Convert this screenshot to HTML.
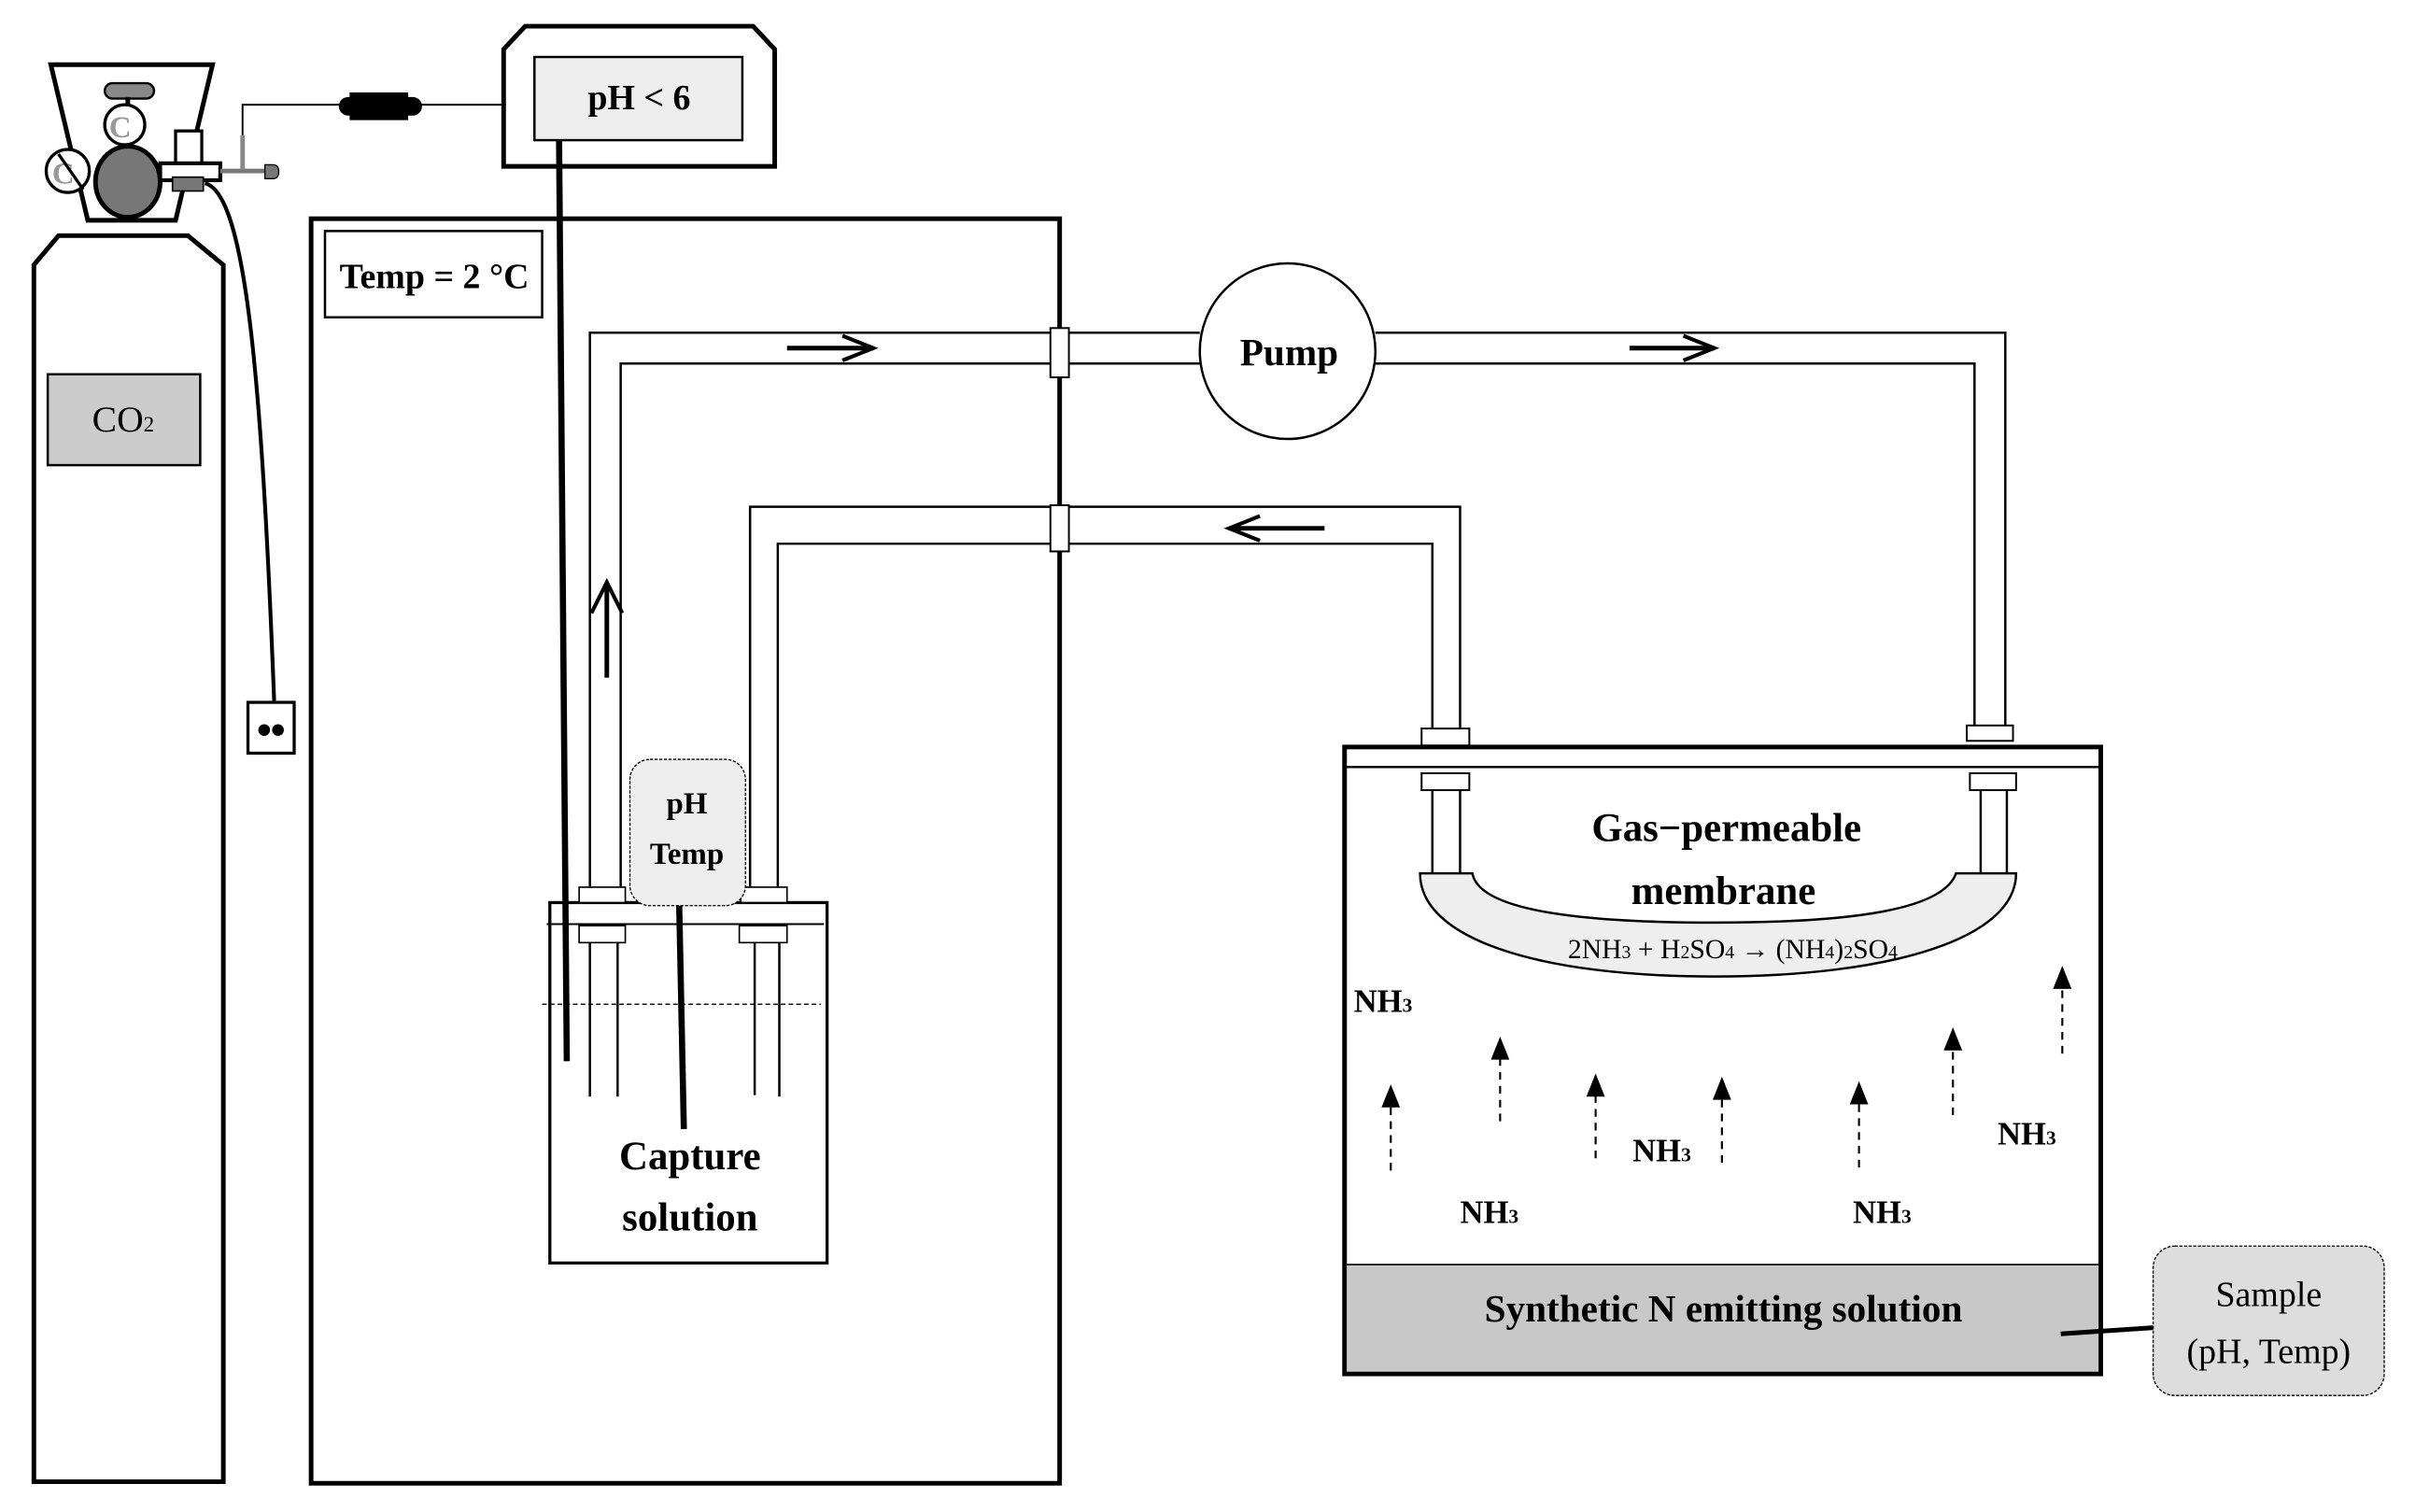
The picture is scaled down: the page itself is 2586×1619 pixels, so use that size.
<!DOCTYPE html>
<html><head><meta charset="utf-8"><style>
html,body{margin:0;padding:0;background:#fff;}
svg{display:block;}
text{font-family:"Liberation Serif",serif;font-weight:bold;fill:#000;}
</style></head><body>
<svg width="2586" height="1619" viewBox="0 0 1568 981.66" preserveAspectRatio="none" xmlns="http://www.w3.org/2000/svg">
<!-- CO2 cylinder -->
<path d="M22,962 L22,172 L38,153 L122,153 L145,172 L145,962 Z" fill="#fff" stroke="#000" stroke-width="3"/>
<rect x="31" y="243" width="99" height="59" fill="#ccc" stroke="#000" stroke-width="1.5"/>
<text x="80" y="280" font-size="24" text-anchor="middle" style="font-weight:normal">CO<tspan font-size="14">2</tspan></text>
<!-- regulator -->
<path d="M33,42 L138,42 L114,143 L57,143 Z" fill="#fff" stroke="#000" stroke-width="3"/>
<rect x="68" y="54" width="32" height="10" rx="5" fill="#888" stroke="#000" stroke-width="1.5"/>
<line x1="83" y1="63" x2="83" y2="142" stroke="#000" stroke-width="3"/>
<circle cx="81" cy="81" r="13" fill="#fff" stroke="#000" stroke-width="2"/>
<text x="78" y="89" font-size="20" text-anchor="middle" style="fill:#999">C</text>
<circle cx="44" cy="111" r="14" fill="#fff" stroke="#000" stroke-width="2"/>
<text x="41" y="119" font-size="20" text-anchor="middle" style="fill:#999">C</text>
<line x1="38" y1="100" x2="54" y2="123" stroke="#000" stroke-width="2"/>
<ellipse cx="83" cy="118" rx="21" ry="23" fill="#777" stroke="#000" stroke-width="3"/>
<rect x="114" y="85" width="17" height="21" fill="#fff" stroke="#000" stroke-width="2"/>
<rect x="104" y="106" width="39" height="11" fill="#fff" stroke="#000" stroke-width="2.5"/>
<rect x="112" y="115" width="20" height="9" fill="#777" stroke="#000" stroke-width="1"/>
<line x1="143" y1="111" x2="174" y2="111" stroke="#777" stroke-width="3"/>
<path d="M172,107 L177,107 Q181,107 181,111.5 Q181,116 177,116 L172,116 Z" fill="#777" stroke="#000" stroke-width="0.8"/>
<rect x="156" y="88" width="3" height="22" fill="#888"/>
<polyline points="157.5,88 157.5,68 327,68" fill="none" stroke="#000" stroke-width="1.2"/>
<rect x="220" y="63" width="54" height="12" rx="6" fill="#000"/>
<rect x="227" y="60" width="38" height="18" fill="#000"/>
<!-- hose -->
<path d="M133,119 C160,125 170,250 178,455" fill="none" stroke="#000" stroke-width="2.5"/>
<rect x="161" y="456" width="30" height="33" fill="#fff" stroke="#000" stroke-width="2"/>
<circle cx="171.5" cy="474" r="3.8" fill="#000"/><circle cx="180.5" cy="474" r="3.8" fill="#000"/>
<!-- pH meter -->
<path d="M327,108 L327,32 L341,17 L489,17 L503,32 L503,108 Z" fill="#fff" stroke="#000" stroke-width="3"/>
<rect x="347" y="37" width="135" height="54" fill="#eee" stroke="#000" stroke-width="1.5"/>
<text x="415" y="71" font-size="23" text-anchor="middle">pH &lt; 6</text>
<!-- refrigerator -->
<rect x="202" y="142" width="486" height="821" fill="none" stroke="#000" stroke-width="3"/>
<rect x="211" y="150" width="141" height="56" fill="#fff" stroke="#000" stroke-width="1.5"/>
<text x="282" y="187" font-size="23" text-anchor="middle">Temp = 2 °C</text>
<!-- pipes upper -->
<polyline points="383,576 383,216 779,216" fill="none" stroke="#000" stroke-width="1.5"/>
<polyline points="403,576 403,236 779,236" fill="none" stroke="#000" stroke-width="1.5"/>
<polyline points="893,216 1302,216 1302,471" fill="none" stroke="#000" stroke-width="1.5"/>
<polyline points="893,236 1282,236 1282,471" fill="none" stroke="#000" stroke-width="1.5"/>
<!-- pipes lower -->
<polyline points="487,576 487,329 948,329 948,473" fill="none" stroke="#000" stroke-width="1.5"/>
<polyline points="505,576 505,353 930,353 930,473" fill="none" stroke="#000" stroke-width="1.5"/>
<!-- pump -->
<circle cx="836" cy="228" r="57" fill="#fff" stroke="#000" stroke-width="1.5"/>
<text x="837" y="237" font-size="25" text-anchor="middle">Pump</text>
<!-- collars at wall -->
<rect x="682" y="213" width="12" height="32" fill="#fff" stroke="#000" stroke-width="1.2"/>
<rect x="682" y="328" width="12" height="30" fill="#fff" stroke="#000" stroke-width="1.2"/>
<!-- flow arrows -->
<g fill="none" stroke="#000" stroke-width="3">
<line x1="511" y1="226" x2="567" y2="226"/><polyline points="547,218 567,226 547,234" stroke-width="2.5"/>
<line x1="1058" y1="226" x2="1113" y2="226"/><polyline points="1093,218 1113,226 1093,234" stroke-width="2.5"/>
<line x1="860" y1="343" x2="798" y2="343"/><polyline points="818,335 798,343 818,351" stroke-width="2.5"/>
<line x1="394" y1="440" x2="394" y2="380"/><polyline points="384,398 394,378 404,398" stroke-width="2.5"/>
</g>
<!-- capture vessel -->
<rect x="357" y="586" width="180" height="234" fill="#fff" stroke="#000" stroke-width="2"/>
<line x1="355" y1="600" x2="535" y2="600" stroke="#000" stroke-width="1.2"/>
<line x1="352" y1="652" x2="533" y2="652" stroke="#000" stroke-width="0.8" stroke-dasharray="3,2"/>
<rect x="376" y="576" width="30" height="10" fill="#fff" stroke="#000" stroke-width="1"/>
<rect x="481" y="576" width="30" height="10" fill="#fff" stroke="#000" stroke-width="1"/>
<rect x="376" y="601" width="30" height="11" fill="#fff" stroke="#000" stroke-width="1"/>
<rect x="480" y="601" width="31" height="11" fill="#fff" stroke="#000" stroke-width="1"/>
<g stroke="#000" stroke-width="1.5">
<line x1="383" y1="612" x2="383" y2="712"/><line x1="401" y1="612" x2="401" y2="712"/>
<line x1="490" y1="612" x2="490" y2="711"/><line x1="506" y1="612" x2="506" y2="712"/>
</g>
<!-- pH meter cable -->
<line x1="363" y1="91" x2="368" y2="689" stroke="#000" stroke-width="4"/>
<rect x="409" y="493" width="75" height="95" rx="13" fill="#eee" stroke="#000" stroke-width="0.8" stroke-dasharray="2,1"/>
<text x="446" y="528" font-size="20" text-anchor="middle">pH</text>
<text x="446" y="561" font-size="20" text-anchor="middle">Temp</text>
<line x1="441" y1="588" x2="444" y2="733" stroke="#000" stroke-width="4"/>
<text x="448" y="759" font-size="26" text-anchor="middle">Capture</text>
<text x="448" y="799" font-size="26" text-anchor="middle">solution</text>
<!-- right vessel -->
<rect x="873" y="485" width="491" height="407" fill="#fff" stroke="#000" stroke-width="3"/>
<line x1="873" y1="498" x2="1364" y2="498" stroke="#000" stroke-width="1.5"/>
<rect x="874.5" y="821" width="488" height="69.5" fill="#c8c8c8"/>
<line x1="873" y1="821" x2="1364" y2="821" stroke="#000" stroke-width="1"/>
<text x="1119" y="858" font-size="25" text-anchor="middle">Synthetic N emitting solution</text>
<rect x="923" y="473" width="31" height="11" fill="#fff" stroke="#000" stroke-width="1.2"/>
<rect x="1277" y="471" width="30" height="10" fill="#fff" stroke="#000" stroke-width="1.2"/>
<rect x="923" y="502" width="31" height="11" fill="#fff" stroke="#000" stroke-width="1.2"/>
<rect x="1279" y="502" width="30" height="11" fill="#fff" stroke="#000" stroke-width="1.2"/>
<g stroke="#000" stroke-width="1.5">
<line x1="930" y1="513" x2="930" y2="568"/><line x1="948" y1="513" x2="948" y2="568"/>
<line x1="1286" y1="513" x2="1286" y2="568"/><line x1="1303" y1="513" x2="1303" y2="568"/>
</g>
<path d="M922,567 L956,567 C960,590 1020,599 1113,599 C1206,599 1262,590 1270,567 L1309,567 C1309,610 1226,634 1113,634 C1000,634 922,610 922,567 Z" fill="#eee" stroke="#000" stroke-width="1.5"/>
<text x="1121" y="546" font-size="26" text-anchor="middle">Gas−permeable</text>
<text x="1119" y="587" font-size="26" text-anchor="middle">membrane</text>
<text x="1125" y="622" font-size="18" text-anchor="middle" style="font-weight:normal">2NH<tspan font-size="12">3</tspan> + H<tspan font-size="12">2</tspan>SO<tspan font-size="12">4</tspan> → (NH<tspan font-size="12">4</tspan>)<tspan font-size="12">2</tspan>SO<tspan font-size="12">4</tspan></text>
<!-- NH3 labels -->
<g font-size="21">
<text x="879" y="657">NH<tspan font-size="13">3</tspan></text>
<text x="1060" y="754">NH<tspan font-size="13">3</tspan></text>
<text x="948" y="794">NH<tspan font-size="13">3</tspan></text>
<text x="1203" y="794">NH<tspan font-size="13">3</tspan></text>
<text x="1297" y="743">NH<tspan font-size="13">3</tspan></text>
</g>
<!-- dashed arrows -->
<g stroke="#000" stroke-width="1.3" stroke-dasharray="5,4" fill="none">
<line x1="903" y1="760" x2="903" y2="718"/>
<line x1="974" y1="728" x2="974" y2="687"/>
<line x1="1036" y1="752" x2="1036" y2="711"/>
<line x1="1118" y1="755" x2="1118" y2="713"/>
<line x1="1207" y1="758" x2="1207" y2="716"/>
<line x1="1268" y1="724" x2="1268" y2="681"/>
<line x1="1339" y1="684" x2="1339" y2="641"/>
</g>
<g fill="#000">
<path d="M903,704 L897,719 L909,719 Z"/>
<path d="M974,673 L968,688 L980,688 Z"/>
<path d="M1036,697 L1030,712 L1042,712 Z"/>
<path d="M1118,699 L1112,714 L1124,714 Z"/>
<path d="M1207,702 L1201,717 L1213,717 Z"/>
<path d="M1268,667 L1262,682 L1274,682 Z"/>
<path d="M1339,627 L1333,642 L1345,642 Z"/>
</g>
<!-- sample -->
<line x1="1338" y1="866" x2="1398" y2="862" stroke="#000" stroke-width="3"/>
<rect x="1398" y="809" width="150" height="97" rx="14" fill="#ddd" stroke="#000" stroke-width="0.8" stroke-dasharray="2,1"/>
<text x="1473" y="848" font-size="23" text-anchor="middle" style="font-weight:normal">Sample</text>
<text x="1473" y="885" font-size="23" text-anchor="middle" style="font-weight:normal">(pH, Temp)</text>
</svg>
</body></html>
